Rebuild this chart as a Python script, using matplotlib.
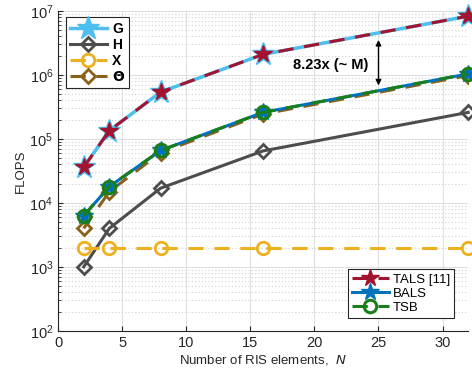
import matplotlib.pyplot as plt
from matplotlib.ticker import LogLocator, NullFormatter

plt.rcParams['font.family'] = ['Liberation Sans', 'DejaVu Sans']
plt.rcParams['font.size'] = 9.5

# dados
N = [2, 4, 8, 16, 32]
flops_G = [3.6e4, 1.35e5, 5.4e5, 2.1e6, 8.3e6]
flops_H = [1.0e3, 4.0e3, 1.7e4, 6.5e4, 2.6e5]
flops_X = [2.0e3, 2.0e3, 2.0e3, 2.0e3, 2.0e3]
flops_Theta = [4.0e3, 1.5e4, 6.1e4, 2.45e5, 9.8e5]
flops_TALS = [3.6e4, 1.35e5, 5.4e5, 2.1e6, 8.3e6]
flops_BALS = [6.3e3, 1.8e4, 6.6e4, 2.6e5, 1.04e6]
flops_TSB = [6.3e3, 1.8e4, 6.6e4, 2.6e5, 1.04e6]

c_G = '#4DBEEE'
c_H = '#4D4D4D'
c_X = '#EDB120'
c_T = '#8B6119'
c_TALS = '#A2142F'
c_BALS = '#0072BD'
c_TSB = '#1A7F1A'

fig = plt.figure(figsize=(4.72, 3.79), dpi=100)
ax = fig.add_axes([0.123, 0.127, 0.869, 0.844])

dash = (0, (5, 3.5))
lG, = ax.plot(N, flops_G, color=c_G, lw=2.5, marker='*', ms=17, label='G', clip_on=False)
lT, = ax.plot(N, flops_Theta, color=c_T, lw=2.2, ls=dash, marker='D', ms=7, mfc='none', mew=2, label=r'$\mathbf{\Theta}$')
lH, = ax.plot(N, flops_H, color=c_H, lw=2.2, marker='D', ms=7, mfc='none', mew=2, label='H', clip_on=False)
lX, = ax.plot(N, flops_X, color=c_X, lw=2.2, ls=dash, marker='o', ms=9, mfc='none', mew=2, label='X', clip_on=False)
l1, = ax.plot(N, flops_TALS, color=c_TALS, lw=2.2, ls=dash, marker='*', ms=13, label='TALS [11]', clip_on=False)
l2, = ax.plot(N, flops_BALS, color=c_BALS, lw=2.2, marker='*', ms=13, label='BALS', clip_on=False)
l3, = ax.plot(N, flops_TSB, color=c_TSB, lw=2.2, ls=dash, marker='o', ms=9, mfc='none', mew=2.2, label='TSB', clip_on=False)

ax.set_yscale('log')
ax.set_xlim(0, 32)
ax.set_ylim(1e2, 1e7)
ax.set_xticks([0, 5, 10, 15, 20, 25, 30])
ax.yaxis.set_minor_locator(LogLocator(base=10, subs=range(2, 10)))
ax.yaxis.set_minor_formatter(NullFormatter())
ax.tick_params(which='both', direction='in', colors='#262626', labelsize=10.5)
ax.tick_params(which='minor', length=2)
ax.grid(True, which='major', color='#e0e0e0', lw=0.8)
ax.grid(True, which='minor', axis='y', color='#d0d0d0', lw=0.8, ls=(0, (1, 2)))
ax.set_axisbelow(True)
for s in ['top', 'right']:
    ax.spines[s].set_visible(False)
for s in ['left', 'bottom']:
    ax.spines[s].set_color('#262626')

ax.set_xlabel(r'Number of RIS elements,  $N$', color='#262626', labelpad=2)
ax.set_ylabel('FLOPS', color='#262626', labelpad=2)

# seta 8.23x
ax.annotate('', xy=(25, 3.9e6), xytext=(25, 6.2e5),
            arrowprops=dict(arrowstyle='<|-|>', color='black', lw=1, mutation_scale=8))
ax.text(24.2, 1.45e6, '8.23x (~ M)', ha='right', va='center', fontweight='bold', fontsize=10.5)

leg1 = ax.legend(handles=[lG, lH, lX, lT], loc='upper left', bbox_to_anchor=(0.02, 0.98),
                 prop={'weight': 'bold', 'size': 10}, fancybox=False, edgecolor='#262626',
                 framealpha=1, handlelength=2.6, handletextpad=0.4, borderpad=0.3,
                 labelspacing=0.15, borderaxespad=0)
leg1.get_frame().set_linewidth(0.8)
ax.add_artist(leg1)
leg2 = ax.legend(handles=[l1, l2, l3], loc='lower right', bbox_to_anchor=(0.965, 0.04),
                 fancybox=False, edgecolor='#262626', framealpha=1, handlelength=2.8,
                 handletextpad=0.3, borderpad=0.3, labelspacing=0.15, borderaxespad=0)
leg2.get_frame().set_linewidth(0.8)

fig.savefig('out.png', dpi=100)
